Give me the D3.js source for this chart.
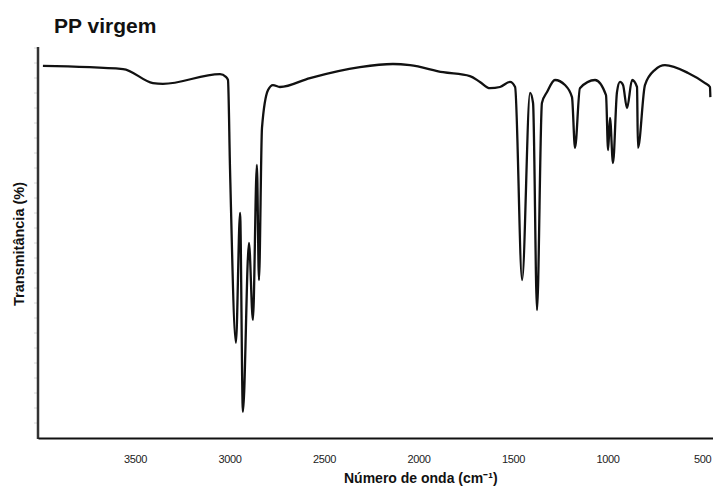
<!DOCTYPE html>
<head>
  <meta charset="utf-8">
  <script src="https://cdnjs.cloudflare.com/ajax/libs/d3/7.8.5/d3.min.js"></script>
  <style>
    body { margin:0; background:#fff; }
    svg { display:block; }
  </style>
</head>

<body>
  <script>
    // spectrum: wavenumber (cm-1) and transmittance (%)
    var waveNumber = [3987, 3563, 3405, 3352, 3050, 3019, 3008, 2997, 2966, 2944,
      2929, 2897, 2876, 2855, 2844, 2828, 2796, 2770, 2733, 2574,
      2310, 2135, 2045, 1870, 1728, 1675, 1622, 1569, 1516, 1489,
      1452, 1410, 1394, 1373, 1347, 1320, 1278, 1225, 1188, 1172,
      1146, 1066, 1008, 997, 987, 971, 950, 934, 918, 897,
      870, 844, 839, 802, 749, 696, 574, 484, 458, 456];
    var transmit = [95.4, 94.6, 91.0, 90.8, 93.3, 92.6, 91.8, 68.7, 24.4, 57.7,
      6.7, 50.0, 30.3, 70.0, 40.5, 79.5, 89.2, 90.5, 90.0, 92.3,
      95.1, 95.9, 95.6, 93.8, 92.8, 91.3, 89.7, 90.0, 91.3, 90.0,
      40.5, 88.5, 85.9, 32.8, 85.9, 88.7, 91.8, 90.5, 87.4, 74.4,
      89.7, 91.8, 87.9, 73.8, 82.1, 70.5, 88.7, 91.3, 90.5, 84.6,
      91.8, 90.0, 74.4, 90.5, 94.4, 95.6, 93.6, 91.0, 90.0, 87.4];
    var xTicks = [3500, 3000, 2500, 2000, 1500, 1000, 500];

    var W = 713, H = 486;
    var x0 = 38, x1 = 713, yTop = 47, yBot = 438;

    var svg = d3.select("body").append("svg")
      .attr("width", W)
      .attr("height", H)
      .style("font-family", "Liberation Sans, Arial, sans-serif");

    var x = d3.scaleLinear().domain([4013, 442]).range([x0, x1]);
    var y = d3.scaleLinear().domain([0, 100]).range([yBot, yTop + 1]);

    // faint little ticks down the left edge
    svg.append("g").selectAll("line")
      .data(d3.range(yBot - 15, yTop, -15))
      .enter().append("line")
      .attr("x1", x0 - 4).attr("x2", x0 - 1)
      .attr("y1", function(d){ return d; }).attr("y2", function(d){ return d; })
      .style("stroke", "#d8d8d8").style("stroke-width", 1);

    // y axis line
    svg.append("line")
      .attr("x1", x0).attr("x2", x0).attr("y1", yTop).attr("y2", yBot + 1)
      .style("stroke", "#333").style("stroke-width", 2.5);

    // x axis
    var xAxis = d3.axisBottom(x).tickValues(xTicks).tickSize(0).tickPadding(17)
      .tickFormat(d3.format("d"));
    var gx = svg.append("g").attr("transform", "translate(0," + yBot + ")").call(xAxis);
    gx.select(".domain").style("stroke", "#111").style("stroke-width", 2);
    gx.selectAll("text")
      .style("font-size", "11px")
      .style("letter-spacing", "-0.4px")
      .style("fill", "#222");

    // spectrum
    var line = d3.line()
      .x(function(d){ return x(d[0]); })
      .y(function(d){ return y(d[1]); })
      .curve(d3.curveMonotoneX);

    svg.append("path")
      .datum(d3.zip(waveNumber, transmit))
      .attr("d", line)
      .style("fill", "none")
      .style("stroke", "#111")
      .style("stroke-width", 2.3)
      .style("stroke-linejoin", "round");

    // titles
    svg.append("text")
      .attr("x", 54).attr("y", 33)
      .style("font-size", "21px").style("font-weight", "bold").style("fill", "#111")
      .text("PP virgem");

    svg.append("text")
      .attr("x", 344).attr("y", 483)
      .style("font-size", "14px").style("font-weight", "bold").style("fill", "#111")
      .text("Número de onda (cm⁻¹)");

    svg.append("text")
      .attr("transform", "translate(24,244) rotate(-90)")
      .attr("text-anchor", "middle")
      .style("font-size", "14.5px").style("font-weight", "bold").style("fill", "#111")
      .text("Transmitância (%)");
  </script>
</body>
